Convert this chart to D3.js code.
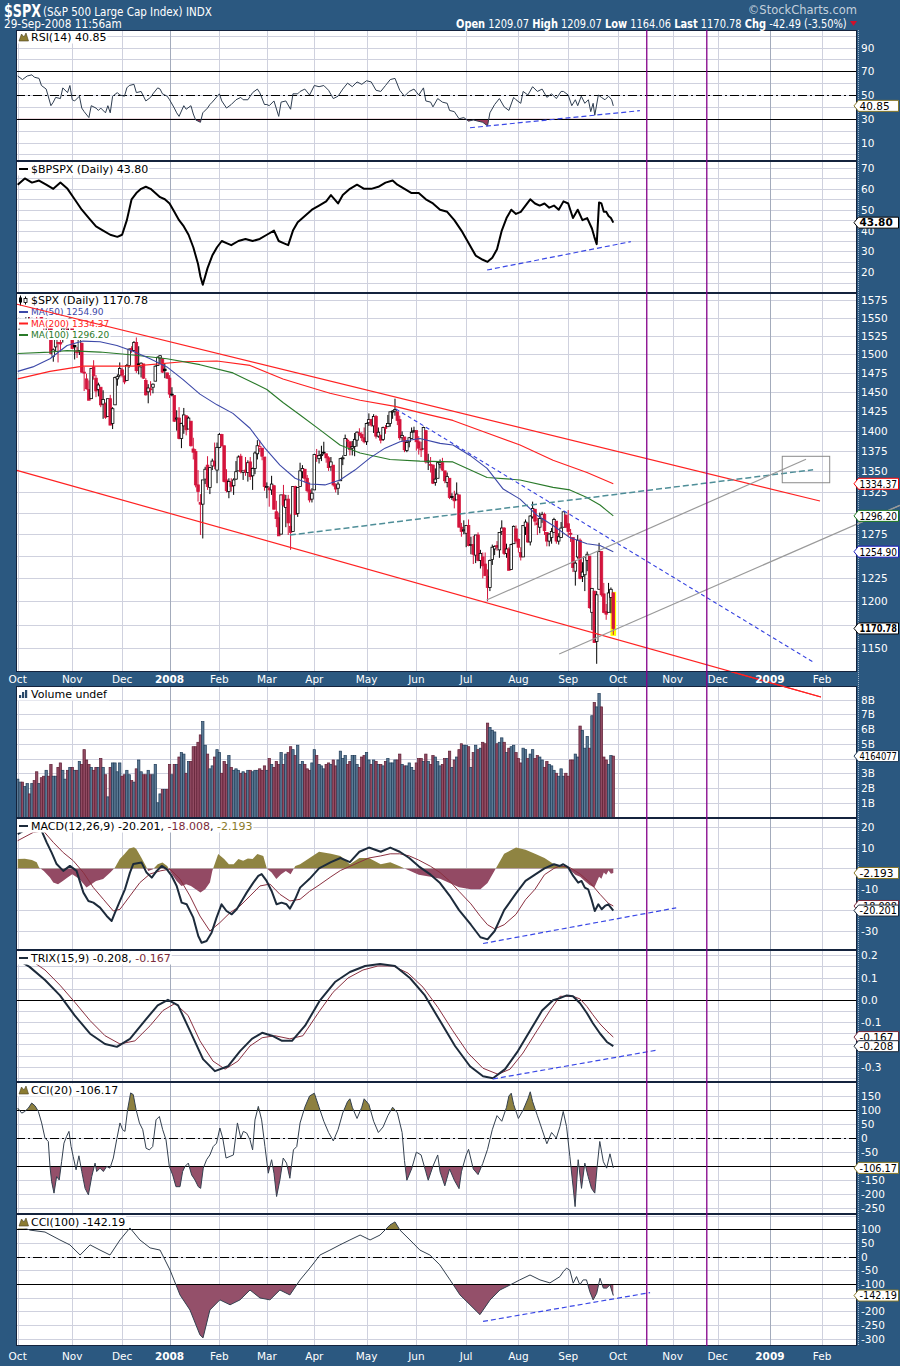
<!DOCTYPE html>
<html>
<head>
<meta charset="utf-8">
<script src="https://cdn.jsdelivr.net/npm/d3@7"></script>
<style>
  body { margin: 0; background: #2b5880; }
  svg { display: block; }
  text { font-family: "DejaVu Sans", Verdana, sans-serif; }
</style>
</head>
<body>
<div id="container"></div>
<script>
/**
 * CONSTANTS AND GLOBALS
 */
const width = 900, height = 1366;
const plotLeft = 16, plotRight = 857;
const frameColor = "#2b5880";
const gridColor = "#cfd1de";
const dashDot = "9,3,2,3";
const axisFont = "'Liberation Sans', Arial, sans-serif";

/**
 * DATA (one entry per trading day, 1 Oct 2007 .. 29 Sep 2008)
 */
const open = [
  1527,1547,1546,1540,1543,1557,1553,1565,1564,1555,1562,1548,1545,1540,1540,1497,1510,1516,1516,1523,1536,1539,1532,
  1546,1512,1505,1505,1515,1476,1467,1453,1441,1483,1468,1453,1456,1434,1434,1418,1441,1409,1433,1467,1472,
  1479,1471,1465,1485,1508,1505,1516,1487,1483,1487,1465,1450,1454,1456,1464,1485,1495,1494,1480,1475,
  1468,1447,1445,1415,1416,1390,1406,1419,1402,1412,1377,1374,1333,1312,1310,1340,1357,1330,1356,1362,1351,
  1379,1395,1381,1339,1325,1336,1332,1340,1350,1368,1348,1351,1348,1361,1344,1353,1371,1378,1378,1367,
  1330,1329,1327,1332,1301,1294,1275,1321,1306,1316,1284,1278,1331,1299,1331,1349,1352,1341,1327,1316,
  1327,1369,1365,1369,1373,1371,1366,1355,1357,1333,1329,1338,1365,1369,1388,1386,1378,1380,1388,1397,1395,1391,
  1386,1410,1414,1406,1418,1393,1394,1389,1404,1405,1409,1424,1425,1424,1414,1391,1392,1375,1386,1390,1399,
  1400,1386,1377,1377,1400,1361,1358,1357,1336,1341,1358,1360,1350,1336,1341,1319,1317,1315,1321,1283,1279,
  1276,1285,1262,1263,1251,1274,1245,1249,1241,1227,1215,1246,1258,1262,1257,1278,1282,1253,1258,1235,1264,1281,
  1269,1254,1249,1283,1287,1266,1295,1304,1288,1283,1293,1298,1277,1267,1271,1277,1290,1267,1271,1283,1297,
  1287,1276,1271,1233,1249,1268,1227,1229,1245,1250,1188,1211,1157,1213,1255,1208,1189,1188,1204,1209.07
];
const high = [
  1549,1549,1546,1544,1561,1557,1565,1565,1576,1563,1564,1548,1550,1542,1540,1508,1520,1517,1524,1535,1545,1539,1553,
  1546,1513,1510,1521,1516,1483,1474,1465,1481,1492,1472,1462,1456,1452,1436,1441,1446,1430,1470,1473,1489,
  1482,1471,1487,1508,1511,1518,1523,1511,1489,1487,1468,1460,1464,1461,1485,1497,1499,1495,1488,1475,
  1472,1456,1445,1426,1430,1410,1429,1419,1418,1412,1391,1377,1351,1322,1339,1355,1368,1354,1365,1385,1385,
  1397,1396,1381,1352,1341,1341,1341,1362,1369,1371,1350,1367,1363,1367,1354,1374,1388,1388,1378,1367,
  1336,1331,1344,1333,1314,1300,1321,1333,1321,1321,1298,1331,1332,1330,1360,1357,1352,1345,1336,1329,
  1371,1377,1375,1381,1386,1371,1368,1367,1357,1335,1337,1366,1369,1395,1390,1386,1387,1397,1399,1403,1398,1404,
  1410,1422,1415,1421,1420,1404,1395,1405,1407,1420,1424,1426,1441,1424,1419,1399,1392,1388,1392,1404,1405,
  1400,1393,1386,1405,1400,1371,1367,1358,1353,1361,1364,1366,1350,1348,1341,1323,1326,1336,1321,1288,1291,
  1285,1292,1272,1273,1274,1277,1257,1254,1254,1235,1246,1263,1262,1267,1277,1291,1283,1264,1260,1264,1285,1285,
  1270,1260,1285,1292,1289,1297,1313,1304,1294,1300,1301,1300,1277,1276,1282,1294,1290,1276,1289,1301,1298,
  1303,1281,1271,1245,1274,1270,1243,1249,1255,1250,1214,1211,1211,1265,1255,1220,1197,1220,1215,1209.07
];
const low = [
  1527,1543,1536,1537,1543,1549,1551,1555,1546,1554,1540,1531,1526,1531,1500,1490,1504,1489,1503,1516,1536,1531,1531,
  1507,1493,1495,1499,1475,1451,1453,1439,1441,1466,1443,1444,1430,1415,1415,1418,1407,1402,1433,1458,1469,
  1469,1460,1465,1482,1502,1504,1475,1473,1469,1467,1445,1435,1445,1448,1464,1485,1487,1475,1468,1467,
  1442,1444,1411,1400,1389,1378,1396,1394,1402,1380,1364,1330,1313,1274,1270,1334,1327,1322,1351,1352,1335,
  1378,1380,1336,1324,1317,1325,1321,1339,1350,1347,1339,1344,1337,1339,1327,1346,1364,1373,1363,1326,
  1317,1307,1321,1304,1283,1273,1275,1307,1283,1274,1257,1278,1298,1295,1331,1341,1336,1324,1312,1312,
  1327,1361,1359,1362,1370,1360,1350,1350,1331,1324,1321,1338,1357,1369,1379,1369,1369,1368,1380,1393,1387,1384,
  1382,1406,1405,1397,1390,1391,1384,1387,1396,1405,1405,1415,1419,1407,1388,1387,1373,1373,1379,1390,1397,
  1375,1370,1367,1377,1359,1351,1348,1334,1332,1341,1353,1350,1335,1330,1316,1315,1305,1315,1283,1272,1275,
  1260,1261,1252,1241,1242,1244,1236,1225,1228,1200,1211,1240,1251,1256,1248,1274,1251,1248,1234,1235,1264,1264,
  1254,1245,1249,1274,1265,1262,1293,1285,1274,1276,1288,1274,1261,1261,1264,1277,1264,1263,1271,1283,1282,
  1272,1266,1232,1217,1247,1224,1221,1211,1233,1192,1169,1156,1134,1213,1205,1187,1180,1188,1187,1164.06
];
const close = [
  1547,1547,1540,1543,1558,1553,1565,1562,1554,1562,1549,1539,1541,1540,1501,1506,1520,1516,1514,1535,1541,1531,1549,
  1508,1510,1502,1520,1476,1475,1454,1439,1481,1471,1451,1459,1433,1440,1417,1441,1407,1428,1469,1470,1481,
  1472,1463,1485,1507,1505,1516,1478,1487,1488,1468,1446,1455,1453,1460,1484,1496,1498,1476,1478,1468,
  1447,1447,1412,1416,1390,1409,1420,1401,1416,1381,1373,1333,1325,1310,1339,1352,1331,1354,1362,1356,1379,
  1395,1381,1337,1326,1337,1331,1339,1349,1367,1349,1350,1349,1360,1343,1353,1372,1381,1380,1368,1331,
  1331,1327,1334,1304,1293,1273,1321,1309,1315,1288,1277,1331,1298,1330,1350,1353,1341,1326,1315,1323,
  1370,1368,1369,1370,1373,1366,1354,1361,1333,1328,1334,1365,1366,1390,1388,1376,1380,1389,1398,1396,1391,1386,
  1409,1414,1407,1418,1393,1398,1388,1404,1403,1409,1424,1425,1427,1413,1391,1394,1376,1385,1391,1398,1400,
  1386,1378,1377,1404,1361,1362,1358,1335,1340,1360,1360,1351,1338,1343,1318,1318,1314,1322,1283,1278,1280,
  1285,1262,1263,1252,1274,1245,1253,1239,1228,1215,1245,1260,1261,1260,1277,1282,1253,1258,1234,1263,1284,1267,
  1260,1249,1285,1289,1266,1296,1305,1290,1286,1293,1298,1279,1267,1275,1278,1292,1267,1272,1282,1301,1283,
  1278,1275,1237,1242,1268,1225,1232,1249,1252,1193,1214,1156,1207,1255,1207,1188,1186,1209,1213,1170.78
];
// volume in billions of shares
const volume = [
  2.6,2.4,2.4,2.1,2.3,1.6,2.3,2.5,3.1,2.3,2.7,2.8,3.2,2.8,3.6,2.8,2.8,3.4,3.7,3.2,2.6,3.2,3.4,
  3.4,3.2,3.2,3.8,3.6,4.6,3.9,3.6,3.4,3.2,3.4,3.4,4.0,3.4,2.9,1.4,3.4,3.7,3.7,3.1,3.7,
  2.8,2.9,3.2,2.9,2.5,2.4,3.3,3.9,3.1,2.9,2.9,3.2,2.9,2.9,3.6,1.0,1.6,1.9,1.9,1.9,
  3.6,2.9,3.6,3.6,4.1,4.4,4.3,3.0,3.8,3.8,4.8,4.8,5.1,5.6,6.5,4.9,4.3,3.3,3.5,4.1,4.6,
  4.4,3.0,3.8,3.6,4.2,3.4,3.2,3.3,3.2,3.0,3.1,3.0,3.2,3.2,3.1,3.2,3.2,3.3,3.2,3.5,
  3.2,4.0,3.6,3.4,3.8,3.6,4.4,3.6,4.3,4.4,4.8,4.6,4.2,4.9,3.6,3.8,3.6,3.3,3.2,3.7,
  4.6,4.2,3.6,3.5,3.3,3.6,3.7,3.6,3.9,3.5,3.9,4.5,4.0,4.2,3.6,3.8,4.2,4.2,3.6,3.4,4.1,4.2,
  4.4,3.9,3.6,3.9,3.8,3.6,3.6,3.5,3.8,4.0,3.7,3.7,3.9,3.9,4.3,3.6,3.5,3.5,3.7,3.4,3.2,
  3.7,4.0,4.0,3.8,4.3,3.8,3.6,4.2,4.1,3.8,3.5,3.6,4.0,4.0,4.5,3.4,3.9,4.1,4.6,5.0,4.9,
  4.9,4.8,3.4,4.4,4.9,4.6,4.7,5.1,5.0,6.4,6.1,5.9,5.8,5.0,5.1,5.4,5.1,4.4,4.7,4.8,4.9,4.4,
  4.0,3.7,4.7,4.6,4.0,4.3,4.6,4.0,4.2,4.1,3.9,3.4,3.8,3.6,3.5,3.2,3.0,2.8,3.3,2.8,3.0,
  2.8,3.9,3.9,4.3,4.1,6.2,5.9,4.7,5.5,4.7,6.9,7.8,7.5,8.4,7.5,4.1,3.9,3.6,4.2,4.164
];

// moving averages: [trading day, value]
const ma50 = [[0,1477],[6.4,1483],[13.6,1494],[20.8,1512],[27.5,1518],[34.7,1517],[41.8,1512],[48.6,1504],[55.8,1494],[62.9,1483],[69.7,1466],[76.8,1447],[84,1433],[90.7,1422],[97.9,1403],[104.2,1378],[110.5,1357],[116.9,1341],[123.2,1334],[129.5,1333],[135.8,1339],[142.1,1351],[148.5,1366],[154.8,1378],[161.1,1386],[169.5,1390],[178,1384],[183.4,1382],[190.6,1369],[197.8,1353],[204.6,1328],[211.7,1316],[218.8,1297],[225.6,1285],[232.7,1271],[239.9,1264],[245.4,1262],[251,1254.9]];
const ma200 = [[0,1467],[13.6,1477],[27.5,1484],[48.6,1484],[69.7,1490],[84,1491],[97.9,1485],[111.8,1467],[119,1460],[131.6,1448],[144.3,1439],[159,1431],[169.5,1423],[183.4,1413],[197.8,1397],[211.7,1382],[225.6,1363],[239.9,1348],[251,1334.37]];
const ma100 = [[0,1501],[13.6,1503],[20.8,1505],[34.7,1503],[48.6,1499],[62.9,1494],[76.8,1486],[90.7,1475],[105,1453],[111.8,1436],[119,1420],[127.4,1401],[135.8,1382],[144.3,1372],[156.9,1364],[169.5,1362],[183.4,1361],[197.8,1342],[211.7,1339],[225.6,1330],[232.7,1327],[239.9,1318],[245.4,1309],[251,1296.2]];

const rsi = [[0,66],[2,63],[4,66],[6,67],[7,65],[9,64],[10,58],[12,55],[14,41],[15,44],[16,48],[18,47],[19,56],[21,52],[22,58],[23,46],[24,45],[26,49],[27,39],[28,36],[30,31],[31,41],[33,39],[34,37],[35,39],[37,35],[38,41],[39,35],[40,49],[42,52],[43,50],[45,49],[46,56],[47,58],[49,59],[50,52],[52,53],[53,49],[54,45],[56,48],[57,51],[59,56],[60,55],[61,51],[63,49],[64,46],[66,39],[67,35],[68,32],[70,41],[71,38],[73,41],[74,34],[75,29],[77,27],[78,35],[80,39],[81,42],[82,44],[85,51],[86,45],[88,39],[90,42],[92,46],[94,48],[95,46],[97,46],[98,49],[99,52],[101,55],[102,52],[104,42],[105,42],[106,41],[108,45],[110,32],[111,44],[113,45],[115,38],[116,51],[118,51],[119,53],[121,55],[123,50],[125,58],[127,57],[129,58],[131,54],[133,47],[135,49],[137,55],[139,60],[141,57],[143,61],[145,59],[147,62],[149,61],[151,54],[153,53],[155,58],[157,63],[159,64],[161,54],[163,49],[165,53],[167,55],[169,50],[171,56],[172,45],[174,44],[175,40],[177,47],[179,44],[181,43],[182,37],[184,36],[186,30],[188,31],[190,28],[192,29],[194,28],[196,27],[198,24],[199,35],[201,42],[203,47],[205,40],[207,37],[209,48],[210,46],[212,43],[213,53],[215,50],[217,57],[219,53],[221,55],[223,48],[225,51],[227,47],[229,53],[230,53],[232,50],[233.5,41],[235,46],[236,41],[237.5,49],[239,43],[240.5,46],[241.5,36],[242.5,43],[243.2,33],[244.7,50],[246,48],[247.5,46],[249,49],[250.3,46],[251,40.85]];

const bpspx = [[0,62],[3,65],[6,63],[9,64],[12,62],[15,60],[18,63],[21,60],[24,55],[27,50],[30,46],[33,42],[36,40],[39,38],[42,37],[44,38],[46,45],[48,55],[50,58],[52,60],[54,61],[56,60],[58,58],[60,56],[62,55],[64,53],[66,49],[68,45],[70,42],[72,38],[74,32],[76,24],[77,18],[78,14],[80,22],[82,28],[84,32],[86,35],[88,34],[90,33],[93,35],[96,36],[99,35],[102,36],[105,38],[108,40],[110,35],[112,34],[114,33],[116,40],[118,44],[121,47],[124,50],[127,52],[130,54],[132,57],[135,53],[137,57],[140,60],[143,62],[146,60],[149,60],[152,61],[155,63],[158,64],[160,62],[163,60],[166,58],[169,58],[172,55],[175,53],[178,50],[181,49],[184,45],[187,40],[190,34],[193,28],[196,26],[198,25],[200,27],[202,31],[204,40],[206,46],[208,50],[210,48],[212,49],[214,52],[216,55],[218,53],[220,52],[222,53],[224,51],[226,52],[228,50],[230,54],[232,53],[234,46],[236,50],[238,45],[240,46],[242,41],[243,37],[244,33.5],[245,53.5],[246,53],[247,49],[248,49],[249,47],[250,46],[251,43.8]];

const macd = [[0,16.5],[3.8,18.9],[8,19.7],[10.1,18],[12.2,12.5],[14.3,7.6],[16.4,2.1],[19.2,-1.2],[22,1.2],[24.8,-1.2],[27.7,-11.6],[29.8,-15.6],[31.9,-16.4],[34.7,-18.8],[37.5,-22.8],[39.6,-25.2],[41,-21.2],[43.1,-15.6],[45.2,-10],[47.3,-2],[48.7,2.1],[52.2,2.8],[54.3,-2],[56.5,-4.4],[58.6,-1.2],[60.7,1.2],[62.8,-0.3],[64.9,-3.6],[67,-8.4],[69.1,-16.4],[71.2,-17.2],[74,-23.6],[76.1,-32.4],[77.5,-35.6],[79.6,-34.8],[81.7,-30.8],[83.8,-23.6],[85.9,-17.2],[88,-20.4],[90.2,-22],[92.3,-19.6],[94.4,-15.6],[96.5,-11.6],[99.3,-6.8],[101.4,-3.6],[102.8,-2.7],[104.9,-6],[107,-10.8],[109.1,-17.2],[111.2,-16.4],[113.3,-17.2],[114.7,-19.3],[116.9,-14.8],[119,-9.2],[123,-5],[127,0],[132,3],[136,5],[140,3],[144,8],[148,10],[153,8],[157,10],[161,8],[165,5],[169,1],[174,-3],[178,-7],[182,-13],[186,-20],[191,-27],[195,-33],[198,-34],[201,-30],[205,-20],[210,-12],[214,-6],[218,-3],[222,0],[226,2],[228.5,1.2],[229.9,2],[232,0.5],[234.1,-3.6],[236.2,-6.8],[237.6,-6],[239,-9.2],[240.4,-10],[241.8,-14.8],[243.2,-20.4],[244.7,-17.2],[246.1,-19.6],[247.5,-18],[248.9,-17.2],[251,-20.201]];
const macdSignal = [[0,13.3],[6.6,17.3],[10.8,18],[15,12.5],[19.2,7.6],[23.4,3.7],[27.7,-2],[31.9,-9.2],[36.1,-14.8],[40.3,-20.4],[43.1,-19.6],[47.3,-13.2],[51.5,-6.8],[55.7,-2.7],[60,-1.2],[64.2,-0.3],[68.4,-5.1],[72.6,-13.2],[76.8,-22.8],[81,-30],[85.2,-26],[89.5,-21.2],[93.7,-18],[97.9,-13.2],[102.1,-8.4],[106.3,-7.5],[110.5,-12.4],[114.7,-15.6],[119,-14.8],[123,-11],[127,-8],[132,-4],[136,-1],[140,1],[144,3],[148,5],[153,6],[157,7],[161,7],[165,6],[169,4],[174,1],[178,-2],[182,-6],[186,-11],[191,-17],[195,-23],[198,-27],[201,-29],[205,-27],[210,-22],[214,-15],[218,-10],[222,-3],[226,0],[228.5,1.2],[232.7,0.4],[237,-2.7],[241.2,-6.8],[245.4,-12.4],[248.9,-16.7],[251,-18.008]];
const macdHist = [[0,4.5],[3,4.6],[6,4],[8,3],[9,0.5],[11,-1.2],[13.6,-4.4],[15,-6.8],[17,-7.6],[19,-6],[21,-4.4],[23,-2.8],[26,-5.1],[29,-9.2],[31,-7.6],[33,-6],[36,-5.1],[39,-2],[41,0.4],[43,4.5],[45,6.9],[47,9.6],[49,10.1],[50,9.3],[52,5.3],[54,1.2],[55,-1.2],[57,-0.4],[59,2],[61,2.8],[63,1.2],[65,-2.8],[67,-6],[69,-8.4],[71,-7.6],[73,-8.4],[75,-10],[77,-11.6],[79,-10],[81,-6.8],[82,-1.2],[84.5,6.9],[87,4.5],[89,2],[91,2],[93,4.5],[95,3.7],[97,4.8],[99,4.5],[101,6.9],[103.5,6],[105,0],[107,-2],[109,-5.1],[111,-2.8],[113,-1.2],[115,-2.8],[117,1.2],[119,2],[123,5],[127,8],[132,7],[136,6],[140,2],[144,5],[148,5],[153,2],[157,3],[161,1],[165,-1],[169,-3],[174,-4],[178,-5],[182,-7],[186,-9],[191,-10],[195,-10],[198,-7],[201,-1],[205,7],[210,10],[214,9],[218,7],[222,5],[226,2],[228.5,1],[231,1.5],[233,-1],[235,-3],[237,-4],[239,-6],[241,-8],[243,-9.2],[245,-4],[246,-5],[247,-2],[248,-3],[249,-1],[250,-2.5],[251,-2.193]];

const trix = [[0,0.18],[5,0.148],[11.5,0.089],[17.8,0.02],[24,-0.07],[30.5,-0.152],[36.8,-0.198],[41.8,-0.211],[47.3,-0.175],[53.6,-0.093],[59,-0.025],[63.3,0],[67.6,-0.025],[72.6,-0.139],[78.1,-0.266],[83.1,-0.32],[88.6,-0.298],[93.7,-0.23],[98.7,-0.175],[103,-0.148],[107.2,-0.161],[111.4,-0.184],[115.6,-0.184],[121.1,-0.116],[127.4,-0.002],[133.7,0.08],[140,0.125],[146.4,0.152],[152.7,0.161],[159,0.152],[165.3,0.098],[171.6,0.02],[177.9,-0.093],[184.3,-0.207],[190.6,-0.298],[196.1,-0.343],[200.3,-0.352],[205.4,-0.311],[210.8,-0.23],[215.9,-0.139],[221,-0.048],[225.6,-0.002],[228.5,0.008],[231.4,0.02],[234,0.016],[237,-0.015],[239.9,-0.06],[242.4,-0.105],[245.4,-0.151],[248.3,-0.189],[251,-0.208]];
const trixSignal = [[0,0.2],[5.2,0.18],[11.5,0.134],[17.8,0.066],[24.1,-0.011],[30.5,-0.093],[36.8,-0.161],[43.1,-0.198],[49.4,-0.184],[55.8,-0.116],[61.2,-0.048],[66.3,-0.016],[71.8,-0.07],[76.8,-0.184],[82.3,-0.275],[87.4,-0.311],[92.8,-0.275],[97.9,-0.207],[103,-0.17],[108.4,-0.161],[114.7,-0.175],[120.2,-0.161],[126.5,-0.061],[132.9,0.034],[139.2,0.098],[145.5,0.134],[151.8,0.152],[158.2,0.152],[164.5,0.12],[170.8,0.057],[177.1,-0.034],[183.4,-0.139],[189.8,-0.239],[196.1,-0.307],[202.4,-0.334],[207.5,-0.311],[212.9,-0.239],[218.8,-0.139],[224.3,-0.048],[228.5,0.016],[234,0.016],[237,0.004],[239.9,-0.03],[242.4,-0.067],[245.4,-0.108],[248.3,-0.14],[251,-0.167]];

const cci20 = [[0,107],[1.7,89],[3,95],[4.5,107],[5.9,125],[7.3,115],[8.7,95],[10.1,54],[11.5,0],[12.9,-12],[13.6,-101],[14.3,-155],[15.3,-196],[16.4,-137],[17.5,-149],[18.5,-84],[19.5,-18],[20.6,6],[21.6,24],[22.5,-30],[23.4,-66],[24.6,-113],[25.8,-63],[27,-119],[28.4,-179],[29.8,-202],[31.2,-137],[32.6,-89],[33.3,-119],[34.7,-107],[36.1,-119],[37.5,-101],[38.9,-107],[40.3,-71],[41.7,-6],[43.1,54],[44.2,30],[45.2,24],[46.3,101],[47.6,161],[48.7,155],[49.9,101],[51.3,54],[52.7,30],[54.1,-36],[55.5,-42],[56.9,-30],[58.3,65],[59.7,77],[61.1,30],[62.5,-6],[63.9,-101],[65.3,-131],[66.7,-173],[68.4,-173],[69.5,-119],[70.5,-101],[71.9,-89],[73.3,-131],[74.7,-149],[76.1,-173],[77.1,-179],[78.2,-107],[79.6,-77],[81,-60],[82.4,-30],[83.8,-18],[85.2,36],[86.4,0],[87.8,-71],[89.5,-65],[90.9,-60],[92.6,54],[94,0],[95.1,24],[96.5,18],[97.9,-6],[99,-42],[100,65],[101.4,113],[102.8,65],[104.2,-30],[105.6,-125],[107,-77],[108,-125],[109.1,-208],[110.5,-149],[111.9,-71],[113.3,-89],[114.7,-143],[116.2,-42],[117.6,-30],[119,54],[121,110],[123,150],[125,160],[127,110],[129,60],[131,20],[133,-10],[135,30],[137,90],[139,130],[140,140],[141,110],[143,70],[145,110],[146,140],[148,120],[150,60],[152,20],[154,40],[156,80],[158,110],[160,90],[162,20],[163,-80],[164,-150],[166,-110],[168,-50],[170,-60],[172,-120],[173,-150],[175,-100],[177,-60],[178,-120],[180,-170],[182,-110],[184,-150],[186,-180],[187,-120],[189,-60],[190,-40],[192,-110],[194,-130],[196,-90],[198,-40],[200,30],[202,80],[204,60],[206,110],[207,150],[208,160],[209,120],[211,70],[213,100],[215,140],[216,165],[217,130],[219,80],[221,30],[223,-20],[225,20],[227,0],[228.5,41],[229.9,95],[231.3,41],[232.7,-66],[234.2,-185],[234.9,-244],[236.2,-77],[237.6,-179],[239,-89],[240.4,-137],[241.8,-179],[243.2,-196],[244.2,-101],[245.3,-12],[246.8,-84],[248.2,-107],[249.6,-56],[251,-106.17]];

const cci100 = [[0,116],[5.2,97],[11.5,90],[17.8,61],[22,43],[26.3,6],[30.5,43],[34.7,24],[38.9,6],[43.1,61],[47.3,105],[51.5,61],[55.8,32],[60,24],[64.2,-49],[68.4,-140],[72.6,-195],[76.8,-286],[78.1,-297],[81,-195],[85.2,-158],[89.5,-176],[93.7,-158],[97.9,-122],[102.1,-151],[106.3,-158],[110.5,-122],[114.7,-140],[119,-85],[123.2,-41],[127.4,6],[131.6,24],[135.8,43],[140,61],[144.3,79],[148.5,61],[152.7,79],[156.9,116],[159,127],[161.1,97],[165.3,61],[169.5,24],[173.7,6],[177.9,-30],[182.2,-85],[186.4,-140],[190.6,-176],[194.8,-212],[199,-159],[203.2,-122],[207.4,-104],[211.6,-85],[215.9,-67],[220.1,-85],[224.3,-96],[228.5,-73],[229.9,-55],[231.3,-42],[232.7,-50],[234.1,-97],[235.5,-73],[236.9,-103],[238.3,-85],[239.7,-85],[241.1,-128],[242.5,-158],[244,-134],[245.4,-79],[246.8,-115],[248.2,-115],[249.6,-103],[251,-142.19]];

// time axis: trading-day index of each month start (future months continue the count)
const monthTicks = [0,23,44,64,85,105,125,147,168,189,211,232,253,276,295,317,339];
const monthLabels = ["Oct","Nov","Dec","2008","Feb","Mar","Apr","May","Jun","Jul","Aug","Sep","Oct","Nov","Dec","2009","Feb"];
const markerDays = [265.1, 290.4];

// hand-drawn annotations: [trading day, value]
const priceLines = [
  { pts: [[-0.72,1569.7],[338.1,1313.7]], color: "#ff2222", dash: null, w: 1.2 },
  { pts: [[-0.72,1351.0],[338.5,1100.5]], color: "#ff2222", dash: null, w: 1.2 },
  { pts: [[114.7,1273.9],[335.2,1351.4]], color: "#4f8e98", dash: "6,3", w: 1.5 },
  { pts: [[197.6,1201.3],[332.2,1364.2]], color: "#9a9a9a", dash: null, w: 1.2 },
  { pts: [[228.2,1144.1],[371.8,1308.6]], color: "#9a9a9a", dash: null, w: 1.2 },
  { pts: [[159.4,1427.6],[335.2,1135.8]], color: "#3340e0", dash: "4,3", w: 1.1 }
];
const priceBox = [[322.2,1367.9],[342.2,1335.6]];
const rsiTrend = [[190.6,22.4],[262.2,36.8]];
const bpTrend = [[197.8,21.1],[258.4,34.7]];
const macdTrend = [[196.1,-36.0],[277.5,-18.9]];
const trixTrend = [[200.3,-0.355],[269.2,-0.226]];
const cci100Trend = [[196.1,-236.9],[266.5,-131.4]];

/**
 * SCALES AND PANELS
 */
const x = d3.scaleLinear().domain([0, close.length - 1]).range([17.7, 613.3]);

const panels = {
  rsi:    { top: 30,   bottom: 161,  y: d3.scaleLinear().domain([10, 90]).range([142.5, 47.5]),
            grid: d3.range(0, 101, 10), labels: [10, 30, 50, 70, 90], fmt: d => d },
  bp:     { top: 161,  bottom: 293,  y: d3.scaleLinear().domain([20, 70]).range([272.3, 168]),
            grid: d3.range(15, 76, 5), labels: d3.range(20, 71, 10), fmt: d => d },
  price:  { top: 293,  bottom: 672,  y: d3.scaleLog().domain([1150, 1575]).range([648.3, 300.3]),
            grid: d3.range(1150, 1576, 25), labels: d3.range(1150, 1576, 25), fmt: d => d },
  vol:    { top: 686,  bottom: 818,  y: d3.scaleLinear().domain([0, 8]).range([817.5, 699.5]),
            grid: d3.range(1, 9), labels: d3.range(1, 9), fmt: d => d + "B" },
  macd:   { top: 818,  bottom: 950,  y: d3.scaleLinear().domain([-30, 20]).range([931, 826.7]),
            grid: d3.range(-30, 21, 10), labels: d3.range(-30, 21, 10), fmt: d => d },
  trix:   { top: 950,  bottom: 1082, y: d3.scaleLinear().domain([-0.3, 0.2]).range([1066.7, 955.3]),
            grid: d3.range(-7, 5).map(k => k * 0.05), labels: [-0.3, -0.2, -0.1, 0, 0.1, 0.2], fmt: d => d.toFixed(1) },
  cci20:  { top: 1082, bottom: 1214, y: d3.scaleLinear().domain([-250, 150]).range([1208.3, 1096]),
            grid: d3.range(-250, 151, 50), labels: d3.range(-250, 151, 50), fmt: d => d },
  cci100: { top: 1214, bottom: 1346, y: d3.scaleLinear().domain([-300, 100]).range([1338.7, 1229.3]),
            grid: d3.range(-300, 151, 50), labels: d3.range(-300, 101, 50), fmt: d => d }
};

// last-value tags on the right axis: [panel, value, label, border colour, bold]
const tags = [
  ["rsi", 40.85, "40.85", "#8a7a2a", false],
  ["bp", 43.8, "43.80", "#000", true],
  ["price", 1334.37, "1334.37", "#ff0000", false],
  ["price", 1296.2, "1296.20", "#1d7a1d", false],
  ["price", 1254.9, "1254.90", "#2020c0", false],
  ["price", 1170.78, "1170.78", "#000", true],
  ["vol", 4.164, "4164077", "#1f3b57", false],
  ["macd", -2.193, "-2.193", "#8a7a2a", false],
  ["macd", -18.008, "-18.008", "#7a2a3a", false],
  ["macd", -20.201, "-20.201", "#1d2b3b", false],
  ["trix", -0.167, "-0.167", "#7a2a3a", false],
  ["trix", -0.208, "-0.208", "#1d2b3b", false],
  ["cci20", -106.17, "-106.17", "#8a7a2a", false],
  ["cci100", -142.19, "-142.19", "#8a7a2a", false]
];

const svg = d3.select("#container").append("svg").attr("width", width).attr("height", height);
const defs = svg.append("defs");
svg.append("rect").attr("width", width).attr("height", height).attr("fill", frameColor);

let clipCount = 0;
function clip(x0, y0, x1, y1) {
  const id = "clip" + (clipCount++);
  defs.append("clipPath").attr("id", id).append("rect")
    .attr("x", x0).attr("y", y0).attr("width", x1 - x0).attr("height", y1 - y0);
  return `url(#${id})`;
}

// squeeze a text horizontally so it is no wider than maxW
function fitWidth(sel, x0, y0, maxW) {
  const w = sel.node().getComputedTextLength();
  const k = Math.min(1, maxW / w);
  sel.attr("x", 0).attr("y", 0).attr("transform", `translate(${x0},${y0}) scale(${k},1)`);
}

function hLine(g, p, v, color, w, dash) {
  const yy = Math.round(p.y(v)) + 0.5;
  g.append("line").attr("x1", plotLeft).attr("x2", plotRight).attr("y1", yy).attr("y2", yy)
    .attr("stroke", color).attr("stroke-width", w).attr("stroke-dasharray", dash || null);
}

function drawPanel(p) {
  const g = svg.append("g");
  g.append("rect").attr("x", plotLeft).attr("y", p.top).attr("width", plotRight - plotLeft)
    .attr("height", p.bottom - p.top).attr("fill", "white");
  p.grid.filter(v => p.y(v) > p.top + 1 && p.y(v) < p.bottom - 1)
    .forEach(v => hLine(g, p, v, gridColor, 1));
  g.selectAll(null).data(monthTicks).join("line")
    .attr("x1", d => Math.round(x(d)) + 0.5).attr("x2", d => Math.round(x(d)) + 0.5)
    .attr("y1", p.top).attr("y2", p.bottom)
    .attr("stroke", (d, i) => (monthLabels[i].length === 4 ? "#a3abbb" : gridColor));
  p.g = g;
  p.clip = clip(plotLeft, p.top, plotRight, p.bottom);
  p.inner = g.append("g").attr("clip-path", p.clip);
  return g;
}

Object.values(panels).forEach(drawPanel);

const line = p => d3.line().x(d => x(d[0])).y(d => p.y(d[1]));

function seriesLine(p, data, color, w) {
  p.inner.append("path").datum(data).attr("fill", "none").attr("stroke", color)
    .attr("stroke-width", w).attr("stroke-linejoin", "round").attr("d", line(p));
}

function thresholdFill(p, data, level, above, color) {
  const yl = p.y(level);
  const cp = above ? clip(plotLeft, p.top, plotRight, yl) : clip(plotLeft, yl, plotRight, p.bottom);
  p.inner.append("g").attr("clip-path", cp).append("path").datum(data).attr("fill", color)
    .attr("d", d3.area().x(d => x(d[0])).y0(yl).y1(d => p.y(d[1])));
}

function dashedTrend(p, pts, color) {
  p.g.append("path").datum(pts).attr("fill", "none").attr("stroke", color || "#3a48e6")
    .attr("stroke-width", 1.2).attr("stroke-dasharray", "5,3").attr("d", line(p));
}

/**
 * RSI
 */
const pr = panels.rsi;
thresholdFill(pr, rsi, 70, true, "#8c7c32");
thresholdFill(pr, rsi, 30, false, "#9c3c5c");
hLine(pr.inner, pr, 70, "#000", 1);
hLine(pr.inner, pr, 30, "#000", 1);
hLine(pr.inner, pr, 50, "#000", 1, dashDot);
seriesLine(pr, rsi, "#2e3d50", 1);
dashedTrend(pr, rsiTrend);

/**
 * $BPSPX
 */
const pb = panels.bp;
seriesLine(pb, bpspx, "#000", 2);
dashedTrend(pb, bpTrend);

/**
 * PRICE
 */
const pp = panels.price;
const bars = close.map((c, i) => ({
  i, o: open[i], h: high[i], l: low[i], c,
  up: i === 0 ? c >= open[i] : c >= close[i - 1]
}));
const last = bars[bars.length - 1];
pp.inner.append("rect")
  .attr("x", x(last.i) - 2.8).attr("width", 5.6)
  .attr("y", pp.y(last.h) - 1).attr("height", pp.y(last.l) - pp.y(last.h) + 2)
  .attr("fill", "#ffff00");

const candle = pp.inner.selectAll(".candle").data(bars).join("g").attr("class", "candle");
candle.append("line")
  .attr("x1", d => x(d.i)).attr("x2", d => x(d.i))
  .attr("y1", d => pp.y(d.h)).attr("y2", d => pp.y(d.l))
  .attr("stroke", d => (d.up ? "#000" : "#d4143c")).attr("stroke-width", 1);
candle.append("rect")
  .attr("x", d => x(d.i) - 1.3).attr("width", 2.6)
  .attr("y", d => pp.y(Math.max(d.o, d.c)))
  .attr("height", d => Math.max(1, Math.abs(pp.y(d.o) - pp.y(d.c))))
  .attr("fill", d => (d.c > d.o ? "white" : (d.up ? "#000" : "#d4143c")))
  .attr("stroke", d => (d.up ? "#000" : "#d4143c")).attr("stroke-width", 0.8);

seriesLine(pp, ma200, "#ff2020", 1.1);
seriesLine(pp, ma100, "#2a7a2a", 1.1);
seriesLine(pp, ma50, "#3c48a8", 1.1);

/**
 * VOLUME
 */
const pv = panels.vol;
pv.inner.selectAll(".vbar").data(volume).join("rect").attr("class", "vbar")
  .attr("x", (d, i) => x(i) - 1.18).attr("width", 2.37)
  .attr("y", d => pv.y(d)).attr("height", d => pv.y(0) - pv.y(d))
  .attr("fill", (d, i) => (bars[i].up ? "#5b7994" : "#914b62"))
  .attr("stroke", (d, i) => (bars[i].up ? "#1f3b57" : "#5e1e34")).attr("stroke-width", 0.7);

/**
 * MACD
 */
const pm = panels.macd;
thresholdFill(pm, macdHist, 0, true, "#8f8442");
thresholdFill(pm, macdHist, 0, false, "#934a64");
seriesLine(pm, macdSignal, "#8a3040", 1);
seriesLine(pm, macd, "#1d2b3b", 2);
dashedTrend(pm, macdTrend);

/**
 * TRIX
 */
const pt = panels.trix;
hLine(pt.inner, pt, 0, "#000", 1);
seriesLine(pt, trixSignal, "#8a3040", 1);
seriesLine(pt, trix, "#1d2b3b", 2);
dashedTrend(pt, trixTrend);

/**
 * CCI
 */
[["cci20", cci20], ["cci100", cci100]].forEach(([key, data]) => {
  const p = panels[key];
  thresholdFill(p, data, 100, true, "#8d8040");
  thresholdFill(p, data, -100, false, "#94506a");
  hLine(p.inner, p, 100, "#000", 1);
  hLine(p.inner, p, -100, "#000", 1);
  hLine(p.inner, p, 0, "#000", 1, dashDot);
  seriesLine(p, data, "#33404f", 1);
});
dashedTrend(panels.cci100, cci100Trend);

/**
 * LEGENDS
 */
function legendLine(p, y0, size, parts, icon) {
  const t = p.g.append("text").attr("x", 31).attr("y", y0).attr("font-size", size);
  parts.forEach(([txt, col]) => t.append("tspan").text(txt).attr("fill", col));
  const b = t.node().getBBox();
  p.g.insert("rect", () => t.node()).attr("x", plotLeft + 1).attr("y", b.y)
    .attr("width", b.x + b.width - plotLeft).attr("height", b.height).attr("fill", "white");
  const cy = b.y + b.height / 2;
  if (icon === "mountain") {
    p.g.append("path").attr("d", `M19,${cy + 4} L21.5,${cy - 3} L24,${cy} L26,${cy - 4} L28.5,${cy + 4} Z`)
      .attr("fill", "#8c7c32").attr("stroke", "#4a4020").attr("stroke-width", 0.6);
  } else if (icon === "candle") {
    p.g.append("path").attr("d", `M20.5,${cy - 5}V${cy + 5}M25.5,${cy - 4}V${cy + 4}`).attr("stroke", "#000");
    p.g.append("rect").attr("x", 19).attr("y", cy - 3).attr("width", 3).attr("height", 5).attr("fill", "#000");
    p.g.append("rect").attr("x", 24).attr("y", cy - 2).attr("width", 3).attr("height", 4).attr("fill", "#fff").attr("stroke", "#000").attr("stroke-width", 0.8);
  } else if (icon === "bars") {
    [[19, 3], [22, 6], [25, 8]].forEach(([bx, bh]) =>
      p.g.append("rect").attr("x", bx).attr("y", cy + 4 - bh).attr("width", 2.2).attr("height", bh).attr("fill", "#2b4a6a"));
  } else if (icon) {
    p.g.append("line").attr("x1", 19).attr("x2", 28).attr("y1", cy).attr("y2", cy)
      .attr("stroke", icon).attr("stroke-width", 2);
  }
}

legendLine(panels.rsi, 40.5, 11, [["RSI(14) 40.85", "#000"]], "mountain");
legendLine(panels.bp, 172.5, 11, [["$BPSPX (Daily) 43.80", "#000"]], "#000");
legendLine(panels.price, 304, 11, [["$SPX (Daily) 1170.78", "#000"]], "candle");
legendLine(panels.price, 315, 9, [["MA(50) 1254.90", "#3c48a8"]], "#3c48a8");
legendLine(panels.price, 326.5, 9, [["MA(200) 1334.37", "#ff2020"]], "#ff2020");
legendLine(panels.price, 338, 9, [["MA(100) 1296.20", "#2a7a2a"]], "#2a7a2a");
legendLine(panels.vol, 697.5, 11, [["Volume undef", "#000"]], "bars");
legendLine(panels.macd, 829.5, 11, [["MACD(12,26,9) -20.201, ", "#000"], ["-18.008", "#7a2a3a"], [", ", "#000"], ["-2.193", "#8a7a2a"]], "#1d2b3b");
legendLine(panels.trix, 961.5, 11, [["TRIX(15,9) -0.208, ", "#000"], ["-0.167", "#7a2a3a"]], "#1d2b3b");
legendLine(panels.cci20, 1093.5, 11, [["CCI(20) -106.17", "#000"]], "mountain");
legendLine(panels.cci100, 1225.5, 11, [["CCI(100) -142.19", "#000"]], "mountain");

/**
 * PRICE ANNOTATIONS (drawn over the legend, like the original)
 */
const pLine = line(pp);
const annot = svg.append("g");
annot.selectAll(null).data(priceLines).join("path")
  .attr("d", d => pLine(d.pts)).attr("fill", "none")
  .attr("stroke", d => d.color).attr("stroke-width", d => d.w)
  .attr("stroke-dasharray", d => d.dash);
annot.append("rect")
  .attr("x", x(priceBox[0][0])).attr("y", pp.y(priceBox[0][1]))
  .attr("width", x(priceBox[1][0]) - x(priceBox[0][0]))
  .attr("height", pp.y(priceBox[1][1]) - pp.y(priceBox[0][1]))
  .attr("fill", "none").attr("stroke", "#8a8a8a").attr("stroke-width", 1);

/**
 * FRAMES, TIME AXES, RIGHT AXIS
 */
Object.values(panels).forEach(p => {
  svg.append("rect").attr("x", plotLeft + 0.5).attr("y", p.top + 0.5)
    .attr("width", plotRight - plotLeft - 1).attr("height", p.bottom - p.top - 1)
    .attr("fill", "none").attr("stroke", "#14233d").attr("stroke-width", 1);
});

// purple vertical markers
svg.selectAll(".marker").data(markerDays).join("line").attr("class", "marker")
  .attr("x1", d => x(d)).attr("x2", d => x(d)).attr("y1", 30).attr("y2", 1346)
  .attr("stroke", "#84008a").attr("stroke-width", 1.3);

// lines that run past the price panel
const overflow = svg.append("g");
overflow.append("path").datum(priceLines[1].pts).attr("d", pLine).attr("stroke", "#ff2222")
  .attr("stroke-width", 1.2).attr("fill", "none")
  .attr("clip-path", clip(plotLeft, 672, plotRight, 700));
overflow.append("path").datum(priceLines[4].pts).attr("d", pLine).attr("stroke", "#9a9a9a")
  .attr("stroke-width", 1.2).attr("fill", "none")
  .attr("clip-path", clip(plotRight, 293, width, 672));

[679.5, 1356.5].forEach(yy => {
  svg.append("g").selectAll(null).data(monthTicks).join("text")
    .attr("x", d => x(d)).attr("y", yy + 3.5).attr("text-anchor", "middle")
    .attr("fill", "white").attr("font-size", 10.5).attr("font-family", axisFont)
    .attr("font-weight", (d, i) => (monthLabels[i].length === 4 ? "bold" : "normal"))
    .text((d, i) => monthLabels[i]);
});

svg.append("line").attr("x1", plotRight + 1.5).attr("x2", plotRight + 1.5).attr("y1", 30).attr("y2", 1346)
  .attr("stroke", "#9fb3c8").attr("stroke-dasharray", "1,1");

// axis labels, leaving out the ones a value tag sits on
Object.entries(panels).forEach(([key, p]) => {
  const tagYs = tags.filter(t => t[0] === key).map(t => p.y(t[1]));
  const shown = p.labels.filter(v => p.y(v) > p.top + 3 && p.y(v) < p.bottom - 3 &&
    tagYs.every(ty => Math.abs(ty - p.y(v)) > 6.5));
  svg.append("g").selectAll(null).data(shown).join("text")
    .attr("x", 861).attr("y", d => p.y(d) + 4)
    .attr("fill", "white").attr("font-size", 10.5).attr("font-family", axisFont)
    .text(p.fmt);
});

tags.forEach(([key, v, label, border, bold]) => {
  const yy = panels[key].y(v);
  const g = svg.append("g");
  g.append("path")
    .attr("d", `M854,${yy} L858.5,${yy - 5.5} L898.5,${yy - 5.5} L898.5,${yy + 5.5} L858.5,${yy + 5.5} Z`)
    .attr("fill", "white").attr("stroke", border).attr("stroke-width", 1);
  const t = g.append("text").attr("fill", "#000")
    .attr("font-size", 10.5).attr("font-weight", bold ? "bold" : "normal")
    .attr("font-family", axisFont).text(label);
  fitWidth(t, 859.5, yy + 3.8, 37.5);
});

/**
 * HEADER
 */
const head = svg.append("g").attr("fill", "white").attr("font-family", axisFont);
fitWidth(head.append("text").attr("font-size", 17).attr("font-weight", "bold").text("$SPX"), 4, 17, 37);
fitWidth(head.append("text").attr("font-size", 12.5).text("(S&P 500 Large Cap Index) INDX"), 43, 16, 169);
fitWidth(head.append("text").attr("font-size", 12).text("29-Sep-2008 11:56am"), 4, 27.5, 118);
head.append("text").attr("x", 857).attr("y", 14).attr("text-anchor", "end")
  .attr("font-size", 11.5).attr("fill", "#c4d0dc").text("©StockCharts.com");
const quote = head.append("text").attr("font-size", 12.5);
[["Open", true], [" 1209.07 ", false], ["High", true], [" 1209.07 ", false], ["Low", true],
 [" 1164.06 ", false], ["Last", true], [" 1170.78 ", false], ["Chg", true], [" -42.49 (-3.50%)", false]]
  .forEach(([txt, b]) => quote.append("tspan").text(txt).attr("font-weight", b ? "bold" : "normal"));
fitWidth(quote, 456, 27.5, 391);
head.append("path").attr("d", "M850,21 L857,21 L853.5,26 Z").attr("fill", "#d0102a");
</script>
</body>
</html>
